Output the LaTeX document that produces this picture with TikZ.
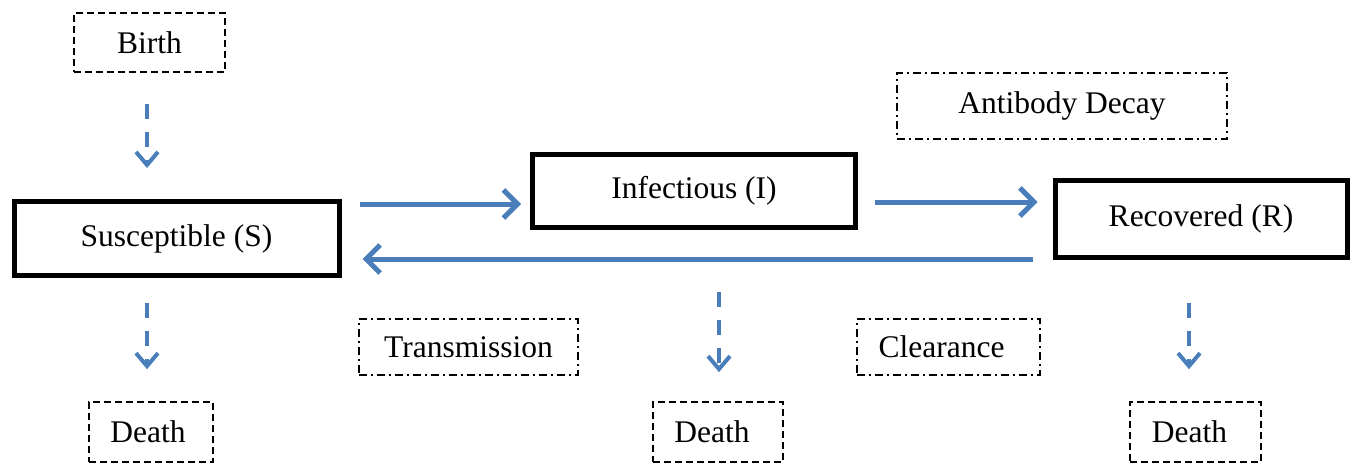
\documentclass[tikz,border=0pt]{standalone}
\usepackage{fontspec}
\setmainfont{Liberation Serif}
\usetikzlibrary{arrows.meta,calc}
\definecolor{flowblue}{RGB}{74,126,187}
\tikzset{
  lbl/.style={font=\fontsize{31.5}{36}\selectfont},
  compbox/.style={draw=black, line width=5pt, inner sep=0pt, lbl},
  dashbox/.style={draw=black, line width=1.6pt, dash pattern=on 7pt off 4pt, inner sep=0pt, lbl},
  dotbox/.style={draw=black, line width=1.6pt, dash pattern=on 8pt off 4pt on 2pt off 4pt, inner sep=0pt, lbl},
  flow/.style={draw=flowblue, line width=5pt, -{Straight Barb[length=14pt,width=28pt]}},
  dflow/.style={draw=flowblue, line width=4pt, dash pattern=on 15pt off 13pt, -{Straight Barb[length=13pt,width=22pt]}}
}
\begin{document}
\begin{tikzpicture}[x=1pt,y=-1pt]
\useasboundingbox (0,0) rectangle (1352,468);
% compartments
\node[compbox, minimum width=325pt, minimum height=74pt] (S) at (176.5,238.5) {\raisebox{2pt}{Susceptible (S)}};
\node[compbox, minimum width=323pt, minimum height=73pt] (I) at (694,191) {\raisebox{4pt}{Infectious (I)}};
\node[compbox, minimum width=292pt, minimum height=77pt] (R) at (1201,219) {\raisebox{4pt}{Recovered (R)}};
% dashed boxes
\node[dashbox, minimum width=151pt, minimum height=59pt] (B) at (149.5,42.5) {Birth};
\node[dashbox, minimum width=124pt, minimum height=60pt] (DS) at (151,432) {\hspace*{-6pt}Death};
\node[dashbox, minimum width=130pt, minimum height=60pt] (DI) at (718,432) {\hspace*{-12pt}Death};
\node[dashbox, minimum width=131pt, minimum height=60pt] (DR) at (1195.5,432) {\hspace*{-12pt}Death};
% dash-dot boxes
\node[dotbox, minimum width=330pt, minimum height=66pt] (AD) at (1062,106) {Antibody Decay};
\node[dotbox, minimum width=219pt, minimum height=56pt] (T) at (468.5,347) {Transmission};
\node[dotbox, minimum width=183pt, minimum height=56pt] (C) at (948.5,347) {\hspace*{-14pt}Clearance};
% main flows
\draw[flow, shorten <=18pt, shorten >=9pt] ([yshift=-13pt]I.west -| S.east) -- ([yshift=-13pt]I.west);
\draw[flow, shorten <=17pt, shorten >=15pt] ([yshift=-11pt]I.east) -- ([yshift=-11pt]I.east -| R.west);
\draw[flow, shorten <=20pt, shorten >=21pt] ([yshift=-40pt]R.west) -- ([yshift=-40pt]R.west -| S.east);
% births and deaths
\draw[dflow, shorten <=31pt, shorten >=31pt] ([xshift=-2.5pt]B.south) -- ([xshift=-2.5pt]B.south |- S.north);
\draw[dflow, shorten <=25pt, shorten >=32pt] ([xshift=-4pt]DS.north |- S.south) -- ([xshift=-4pt]DS.north);
\draw[dflow, shorten <=62pt, shorten >=29pt] ([xshift=1pt]DI.north |- I.south) -- ([xshift=1pt]DI.north);
\draw[dflow, shorten <=43pt, shorten >=32pt] ([xshift=-6.5pt]DR.north |- R.south) -- ([xshift=-6.5pt]DR.north);
\end{tikzpicture}
\end{document}
